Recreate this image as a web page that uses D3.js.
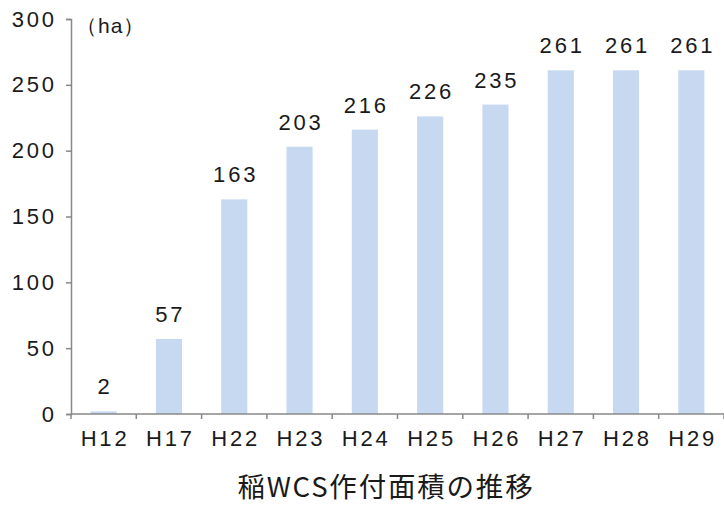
<!DOCTYPE html>
<html><head><meta charset="utf-8">
<script src="https://cdn.jsdelivr.net/npm/d3@7"></script>
<style>
body{margin:0;background:#fff;}
svg text{font-family:"Liberation Sans",Arial,sans-serif;fill:#1a1a1a;}
svg text.cjk{font-family:"Noto Sans CJK JP",sans-serif;}
</style></head>
<body>
<svg id="c" width="724" height="509"></svg>
<script>
const categories = ["H12","H17","H22","H23","H24","H25","H26","H27","H28","H29"];
const values = [2,57,163,203,216,226,235,261,261,261];
const yTicks = [0,50,100,150,200,250,300];
const unitLabel = "（ha）";
const title = "稲WCS作付面積の推移";

const svg = d3.select("#c");
const mLeft = 71, mRight = 724, mTop = 19, mBottom = 414;
const x = d3.scaleBand().domain(categories).range([mLeft, mRight]).paddingInner(0.6).paddingOuter(0.3);
const y = d3.scaleLinear().domain([0,300]).range([mBottom, mTop]);
const FS = 22, LS = 2.8;

svg.selectAll("rect.bar").data(values).enter().append("rect")
  .attr("class","bar")
  .attr("x",(d,i)=>x(categories[i]))
  .attr("width",x.bandwidth())
  .attr("y",d=>y(d))
  .attr("height",d=>mBottom-y(d))
  .attr("fill","#c6d9f1");

svg.selectAll("text.val").data(values).enter().append("text")
  .attr("class","val")
  .attr("x",(d,i)=>x(categories[i])+x.bandwidth()/2+LS/2)
  .attr("y",d=>y(d)-17)
  .attr("text-anchor","middle")
  .attr("font-size",FS)
  .attr("letter-spacing",LS)
  .text(d=>d);

// y axis
const yAxis = d3.axisLeft(y).tickValues(yTicks).tickSize(5).tickPadding(12);
const gy = svg.append("g").attr("transform",`translate(${mLeft},0)`).call(yAxis);
gy.attr("font-family",null).attr("font-size",null);
gy.select(".domain").attr("stroke","#888").attr("stroke-width",1.5);
gy.selectAll(".tick line").attr("stroke","#888").attr("stroke-width",1.5);
gy.selectAll(".tick text").attr("font-size",FS).attr("letter-spacing",LS).attr("fill","#1a1a1a").attr("dx",LS);

// x axis
const xTickScale = d3.scaleLinear().domain([0,categories.length]).range([mLeft,mRight]);
const gx = svg.append("g").attr("transform",`translate(0,${mBottom})`);
gx.append("line").attr("x1",mLeft).attr("x2",mRight).attr("y1",0).attr("y2",0).attr("stroke","#888").attr("stroke-width",1.5);
gx.selectAll("line.t").data(d3.range(categories.length+1)).enter().append("line")
  .attr("class","t")
  .attr("x1",d=>xTickScale(d)).attr("x2",d=>xTickScale(d)).attr("y1",0).attr("y2",5)
  .attr("stroke","#888").attr("stroke-width",1.5);
gx.selectAll("text.cat").data(categories).enter().append("text")
  .attr("class","cat")
  .attr("x",d=>x(d)+x.bandwidth()/2+LS/2).attr("y",32)
  .attr("text-anchor","middle").attr("font-size",FS).attr("letter-spacing",LS)
  .text(d=>d);

svg.append("text").attr("x",76).attr("y",33).attr("font-size",21).attr("letter-spacing",1).text(unitLabel);

svg.append("text").attr("class","cjk").attr("x",386).attr("y",497).attr("text-anchor","middle")
  .attr("font-size",27.5).attr("letter-spacing",1.8).text(title);
</script>
</body></html>
